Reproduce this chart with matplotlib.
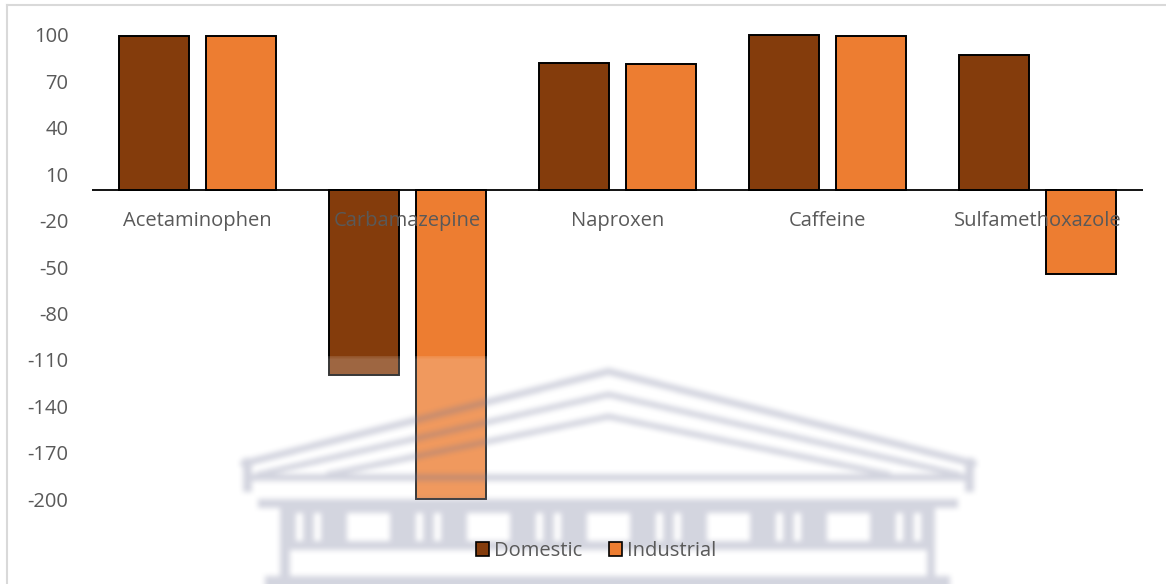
import numpy as np
import matplotlib
matplotlib.use("Agg")
import matplotlib.pyplot as plt
from matplotlib import transforms
from matplotlib.lines import Line2D
from matplotlib.patches import Patch

plt.rcParams["font.family"] = ["Open Sans", "DejaVu Sans"]
plt.rcParams["axes.unicode_minus"] = False

# removal efficiency per compound (%)
compounds = ["Acetaminophen", "Carbamazepine", "Naproxen", "Caffeine", "Sulfamethoxazole"]
domestic = [99.4, -120, 82, 100, 87]
industrial = [99.6, -200, 81, 99.5, -54.5]
yticks = list(range(-200, 101, 30))

DOM_COLOR = "#843C0C"
IND_COLOR = "#ED7D31"
TXT = "#595959"
FS = 14.5

W, H = 1166, 584
fig = plt.figure(figsize=(W / 100, H / 100), dpi=100)
fig.patch.set_facecolor("white")

ymin, ymax = -215, 110
px_per = 1.547
zero_px = 189.7
top_px = zero_px - ymax * px_per
bot_px = zero_px - ymin * px_per
ax = fig.add_axes([92 / W, 1 - bot_px / H, 1051 / W, (bot_px - top_px) / H])

x = np.arange(len(compounds))
bw = 0.333
off = 0.207
ax.bar(x - off, domestic, bw, color=DOM_COLOR, edgecolor="black", linewidth=1.4, zorder=3)
ax.bar(x + off, industrial, bw, color=IND_COLOR, edgecolor="black", linewidth=1.4, zorder=3)
ax.axhline(0, color="black", linewidth=1.3, zorder=2)

ax.set_xlim(-0.5, len(compounds) - 0.5)
ax.set_ylim(ymin, ymax)
ax.set_yticks(yticks)
ax.set_xticks([])
ax.tick_params(axis="y", length=0, pad=17, labelsize=FS, labelcolor=TXT)
for s in ax.spines.values():
    s.set_visible(False)
ax.patch.set_alpha(0)

lab_tr = transforms.offset_copy(ax.transData, fig=fig, y=-31, units="dots")
for i, name in enumerate(compounds):
    ax.text(i, 0, name, transform=lab_tr, ha="center", va="center",
            fontsize=FS, color=TXT, zorder=4)

handles = [Patch(facecolor=DOM_COLOR, edgecolor="black", linewidth=1.2),
           Patch(facecolor=IND_COLOR, edgecolor="black", linewidth=1.2)]
fig.legend(handles, ["Domestic", "Industrial"], loc="center",
           bbox_to_anchor=(596 / W, 1 - 551 / H), ncol=2, frameon=False,
           fontsize=FS, labelcolor=TXT, handlelength=0.65, handleheight=0.65,
           handletextpad=0.25, columnspacing=1.3)

# chart area border (only top and left edges fall inside the image)
fig.add_artist(Line2D([7 / W, 1], [1 - 5 / H] * 2, transform=fig.transFigure,
                      color="#D9D9D9", linewidth=1.5))
fig.add_artist(Line2D([7 / W] * 2, [0, 1 - 5 / H], transform=fig.transFigure,
                      color="#D9D9D9", linewidth=1.5))

# --- faded building watermark laid over the lower part of the chart ---
yy, xx = np.mgrid[0:H, 0:W]
mask = np.zeros((H, W))


def rect(x0, y0, x1, y1):
    mask[y0:y1, x0:x1] = 1


def seg(p, q, w):
    px, py = p
    qx, qy = q
    dx, dy = qx - px, qy - py
    t = np.clip(((xx - px) * dx + (yy - py) * dy) / (dx * dx + dy * dy), 0, 1)
    d = np.hypot(xx - (px + t * dx), yy - (py + t * dy))
    mask[d <= w / 2] = 1


def roof(left, apex, right, w):
    seg(left, apex, w)
    seg(apex, right, w)


roof((243, 463), (608, 371), (973, 463), 7)
roof((258, 474), (608, 394), (958, 474), 6)
roof((328, 474), (608, 416), (888, 474), 6)
rect(243, 458, 252, 492)
rect(965, 458, 974, 492)
rect(250, 474, 966, 481)
rect(258, 499, 958, 508)

# colonnade: solid band with slits and windows cut out
rect(280, 508, 935, 545)
for k in range(6):
    base = 280 + 120 * k
    mask[513:541, base + 16:base + 23] = 0
    mask[513:541, base + 34:base + 41] = 0
    if k < 5:
        mask[513:541, base + 67:base + 110] = 0
rect(280, 545, 935, 550)
rect(280, 505, 290, 584)
rect(927, 505, 935, 584)
rect(265, 576, 950, 584)


def box_blur(a, r):
    k = 2 * r + 1
    for axis in (0, 1):
        p = np.pad(a, [(r, r) if i == axis else (0, 0) for i in range(2)], mode="edge")
        c = np.cumsum(p, axis=axis)
        c = np.insert(c, 0, 0, axis=axis)
        if axis == 0:
            a = (c[k:] - c[:-k]) / k
        else:
            a = (c[:, k:] - c[:, :-k]) / k
    return a


mask = box_blur(box_blur(mask, 3), 2)

haze = np.zeros((H, W))
haze[356:, 213:1007] = 1
haze = box_blur(haze, 3)
haze[:356, :] = 0

ov = fig.add_axes([0, 0, 1, 1], zorder=5)
ov.set_axis_off()
ov.patch.set_alpha(0)

haze_rgba = np.ones((H, W, 4))
haze_rgba[..., 3] = haze * 0.22
ov.imshow(haze_rgba, extent=(0, W, H, 0), aspect="auto", interpolation="bilinear")

wm = np.zeros((H, W, 4))
wm[..., 0] = 110 / 255
wm[..., 1] = 115 / 255
wm[..., 2] = 150 / 255
wm[..., 3] = mask * 0.3
ov.imshow(wm, extent=(0, W, H, 0), aspect="auto", interpolation="bilinear")
ov.set_xlim(0, W)
ov.set_ylim(H, 0)

fig.savefig("out.png", dpi=100)
